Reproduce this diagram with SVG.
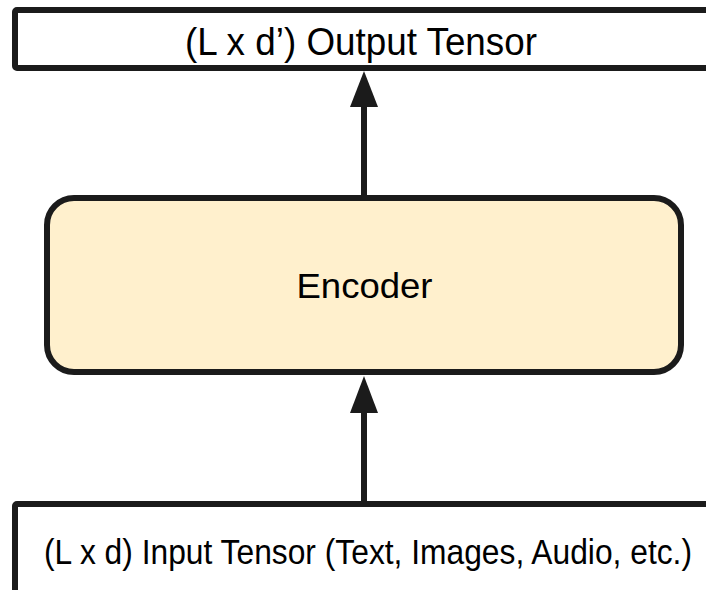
<svg xmlns="http://www.w3.org/2000/svg" width="706" height="590" viewBox="0 0 706 590">
  <defs>
    <style>
      .box { fill: #ffffff; stroke: #1b1b1b; stroke-width: 6; }
      .enc { fill: #fff0cd; stroke: #1b1b1b; stroke-width: 6; }
      .lbl { font-family: "Liberation Sans", Arial, Helvetica, sans-serif; fill: #000000; text-anchor: middle; }
      .wire { stroke: #1b1b1b; stroke-width: 6; fill: none; }
      .head { fill: #1b1b1b; }
    </style>
  </defs>
  <rect width="706" height="590" fill="#ffffff"/>

  <g id="output-tensor">
    <rect class="box" x="15" y="10" width="700" height="58" rx="2"/>
    <text class="lbl" x="361" y="55" font-size="38" textLength="352" lengthAdjust="spacingAndGlyphs">(L x d’) Output Tensor</text>
  </g>

  <g id="encoder">
    <rect class="enc" x="47" y="198" width="634" height="174" rx="27"/>
    <text class="lbl" x="364.5" y="298" font-size="34.5" textLength="136" lengthAdjust="spacingAndGlyphs">Encoder</text>
  </g>

  <g id="input-tensor">
    <rect class="box" x="15" y="504" width="700" height="90" rx="2"/>
    <text class="lbl" x="368" y="564" font-size="35" textLength="648" lengthAdjust="spacingAndGlyphs">(L x d) Input Tensor (Text, Images, Audio, etc.)</text>
  </g>

  <g id="connectors">
    <line class="wire" x1="364" y1="195" x2="364" y2="104"/>
    <polygon class="head" points="364,71 350,107 378,107"/>
    <line class="wire" x1="364" y1="502" x2="364" y2="410"/>
    <polygon class="head" points="364,376 350,413 378,413"/>
  </g>
</svg>
